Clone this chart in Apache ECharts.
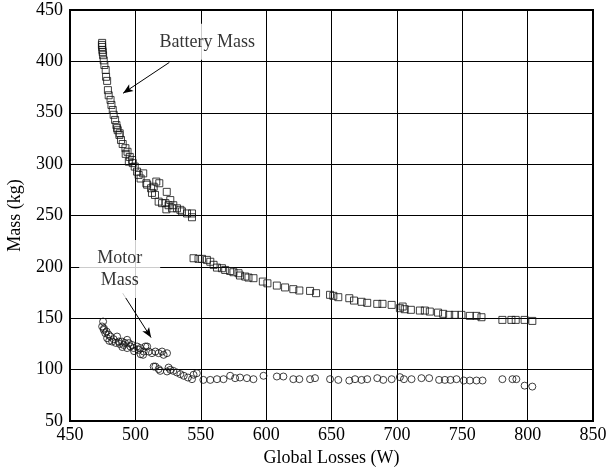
<!DOCTYPE html>
<html>
<head>
<meta charset="utf-8">
<script src="https://cdn.jsdelivr.net/npm/echarts@6/dist/echarts.min.js"></script>
<style>
  html, body { margin: 0; padding: 0; background: #fff; }
  #chart { width: 610px; height: 473px; }
</style>
</head>
<body>
<div id="chart"></div>
<script>
// battery mass points (global losses W, mass kg)
var batteryLoss = [474.6, 474.4, 474.6, 474.8, 475, 475.3, 475.8, 476.3, 477.3, 477.6, 478.4, 479, 479.6, 481, 481.7, 482.7, 483.4, 484.5, 485.5, 486, 486.5, 488, 487.8, 489, 490.3, 492.4, 494, 492.6, 495.7, 495, 497.5, 498, 499.5, 501.3, 502.5, 506, 504, 508.4, 509, 516, 518.3, 514, 512, 512.7, 515, 524, 517.8, 520.4, 523, 526.7, 525.4, 529, 528, 523.7, 531.8, 534.4, 535.6, 539.5, 543.3, 543.3,
  544.5, 548.3, 551, 554.7, 557.3, 559.8, 562.4, 566.2, 568.7, 572.5, 575, 578.9, 580, 584, 586.5, 590.3, 597.5, 601, 608.2, 614.5, 620.8, 625.4, 633.6, 638.2, 648.9, 651.4, 655.2, 663.6, 667.2, 673, 677.3, 685, 689, 696, 702.3, 704.4, 706, 710.7, 717.6, 721.4, 725.2, 731.5, 735.4, 740, 744.3, 749.4, 755.8, 760.9, 764.7, 780.7, 787.6, 790.9, 797.7, 803.6];
var batteryMass = [418, 416, 414, 411, 409, 406, 401, 396.5, 391.6, 385, 381, 372, 367, 362.5, 357.6, 352.7, 348, 343, 338, 335, 333, 330, 328.4, 323.5, 319.6, 315.5, 312, 310, 307, 302.4, 304, 301, 297.6, 292.7, 289.5, 291, 286, 281.4, 280, 283, 281.4, 278, 276.5, 272, 270, 273, 263.5, 262, 262, 265, 260, 260, 257, 256, 257, 255.5, 254, 252, 252, 248.3,
  208.4, 207.8, 207.8, 206.8, 205, 202, 199.3, 198.7, 197, 196, 194.8, 193.8, 191.6, 190.6, 189.6, 189, 185.7, 184, 181.8, 180, 178.3, 177, 176.6, 174.4, 172.8, 171.8, 170.5, 169.5, 167.2, 166, 165, 164, 164, 163, 159.8, 161.4, 158.8, 158.2, 157.5, 157.5, 156.5, 155.5, 154.3, 153.3, 153.3, 153.3, 152.3, 152.3, 151, 148.4, 148.4, 148.4, 148.4, 147.4];

// motor mass points
var motorLoss = [475.3, 474.6, 475.8, 476, 477, 478, 479.6, 478.4, 481, 480, 483.4, 486, 482.2, 485, 487.3, 488, 489.8, 490, 491, 493.7, 495, 492, 496.2, 493.7, 497.5, 498.7, 499, 501.3, 502.5, 503.8, 504, 506.3, 505.9, 507.6, 509, 510.2, 512.7, 515.3, 517.8, 520.4, 521.6, 524.2,
  514, 515.3, 517.8, 519, 524.2, 525.4, 526.7, 529, 531.8, 534.4, 537, 540.2, 543.3, 544.5, 547, 552, 557.3, 562.4, 567.4, 572.5, 576.3, 580, 585.3, 590.3, 598, 608.2, 613.2, 620.8, 625.4, 633.6, 637.4, 648.9, 655.2, 663.6, 668, 673, 677.3, 685, 689.6, 696, 702.3, 705.4, 711.2, 718.8, 724.7, 732.3, 736.7, 741, 745.6, 751.2, 755.8, 760.9, 765.5, 780.7, 788.4, 791.4, 797.7, 803.6];
var motorMass = [146.8, 142, 138.7, 140, 135.5, 137, 134, 130.6, 132.2, 128, 129.6, 132.2, 127.3, 126, 127.3, 125, 127.3, 122, 124, 129, 125.8, 126, 122.5, 121, 124, 121, 118, 122.5, 119.3, 121, 115, 117.6, 114.4, 122.5, 122.5, 117.6, 116, 117.6, 116, 117.6, 114.4, 116,
  103, 103, 100.5, 98.8, 98.2, 102, 99.8, 98.8, 97.2, 95.6, 94, 92.3, 90.7, 95, 96.5, 90, 90, 90.7, 90.7, 94, 91.7, 92.3, 91.7, 90.7, 94, 93.3, 93.3, 90.7, 90.7, 90.7, 91.7, 90.7, 90, 89.4, 90.7, 90, 90.7, 91.7, 90, 90.7, 92.7, 90.7, 90.7, 91.7, 91.7, 90, 90, 90, 90.7, 89.4, 89.4, 89.4, 89.4, 90.7, 90.7, 90.7, 84.4, 83.5];

var xTicks = [450, 850, 50];
var yTicks = [50, 450, 50];

// annotations: text position and arrow start/end
var noteText = ['Battery Mass', 'Motor\nMass'];
var notePos = [[555, 419], [488, 198]];
var arrows = [[[526, 399], [490.6, 369]], [[490.3, 174.4], [512, 131.2]]];

function zip(a, b) {
  var out = [];
  for (var i = 0; i < a.length; i++) out.push([a[i], b[i]]);
  return out;
}

var font = 'Liberation Serif';
var myChart = echarts.init(document.getElementById('chart'));
var option = {
  animation: false,
  backgroundColor: '#fff',
  grid: {
    left: 70, right: 17, top: 10, bottom: 52,
    outerBoundsMode: 'none',
    containLabel: false,
    show: true, borderColor: '#000', borderWidth: 2
  },
  xAxis: {
    type: 'value',
    min: xTicks[0], max: xTicks[1], interval: xTicks[2],
    name: 'Global Losses (W)',
    nameLocation: 'middle',
    nameGap: 27,
    nameTextStyle: { fontFamily: font, fontSize: 18, color: '#000' },
    axisLine: { show: true, lineStyle: { color: '#000', width: 2 } },
    axisTick: { show: false },
    axisLabel: { fontFamily: font, fontSize: 18, color: '#000', margin: 5 },
    splitLine: { show: true, lineStyle: { color: '#000', width: 1 } }
  },
  yAxis: {
    type: 'value',
    min: yTicks[0], max: yTicks[1], interval: yTicks[2],
    name: 'Mass (kg)',
    nameLocation: 'middle',
    nameGap: 46,
    nameTextStyle: { fontFamily: font, fontSize: 18, color: '#000' },
    axisLine: { show: true, lineStyle: { color: '#000', width: 2 } },
    axisTick: { show: false },
    axisLabel: { fontFamily: font, fontSize: 18, color: '#000', margin: 7 },
    splitLine: { show: true, lineStyle: { color: '#000', width: 1 } }
  },
  series: [
    {
      name: 'Battery Mass',
      type: 'scatter',
      symbol: 'rect',
      symbolSize: 7,
      data: zip(batteryLoss, batteryMass),
      itemStyle: { color: 'rgba(0,0,0,0)', borderColor: '#111', borderWidth: 1 }
    },
    {
      name: 'Motor Mass',
      type: 'scatter',
      symbol: 'circle',
      symbolSize: 7,
      data: zip(motorLoss, motorMass),
      itemStyle: { color: 'rgba(0,0,0,0)', borderColor: '#111', borderWidth: 1 }
    },
    {
      name: 'notes',
      type: 'scatter',
      symbolSize: 0,
      silent: true,
      z: 5,
      data: [
        { value: notePos[0], label: { padding: [9, 8] } },
        { value: notePos[1], label: { padding: [7, 18], lineHeight: 22 } }
      ].map(function (d, i) { d.name = noteText[i]; return d; }),
      label: {
        show: true,
        position: 'inside',
        formatter: '{b}',
        align: 'center',
        fontFamily: font,
        fontSize: 18,
        color: '#000',
        textBorderWidth: 0,
        backgroundColor: '#fff'
      },
      markLine: {
        silent: true,
        symbol: ['none', 'arrow'],
        symbolSize: [6, 10],
        label: { show: false },
        lineStyle: { color: '#000', width: 1, type: 'solid' },
        data: arrows.map(function (a) {
          return [{ coord: a[0] }, { coord: a[1] }];
        })
      }
    }
  ]
};
myChart.setOption(option);
</script>
</body>
</html>
